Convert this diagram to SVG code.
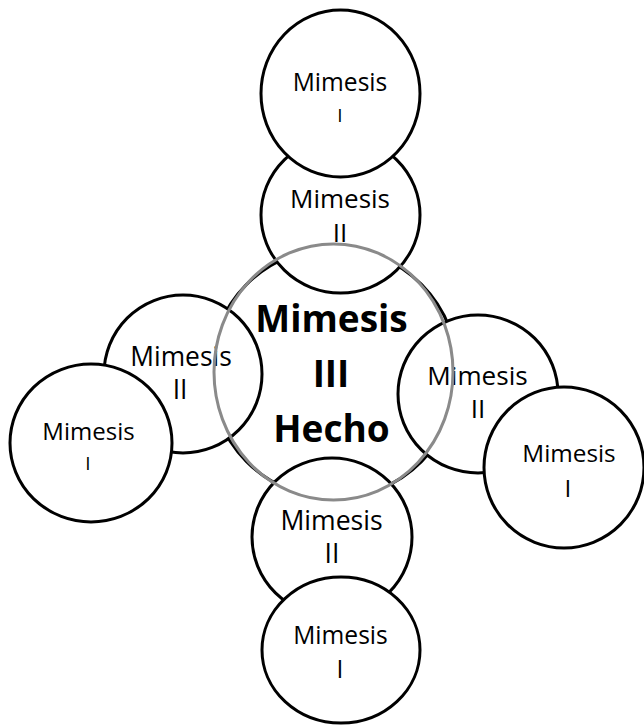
<svg xmlns="http://www.w3.org/2000/svg" width="644" height="725" viewBox="0 0 644 725">
<style>
.c{fill:#fff;stroke:#000;stroke-width:3}
.ring{fill:none;stroke:#8a8a8a;stroke-width:3}
.t{font-family:"Open Sans","Noto Sans","Liberation Sans",sans-serif;fill:#000;text-anchor:middle}
.b{font-family:"Open Sans","Noto Sans","Liberation Sans",sans-serif;font-weight:bold;fill:#000;text-anchor:middle;font-size:37px}
</style>
<rect width="644" height="725" fill="#fff"/>
<g id="mimesis-iii">
<ellipse class="c" cx="334" cy="373" rx="124" ry="125"/>
</g>
<g id="top-ii">
<ellipse class="c" cx="340.5" cy="215" rx="79.5" ry="78"/>
<text class="t" x="340" y="208" font-size="26">Mimesis</text>
<text class="t" x="340" y="242" font-size="26">II</text>
</g>
<g id="left-ii">
<ellipse class="c" cx="183" cy="374" rx="79" ry="79"/>
<text class="t" x="181" y="366" font-size="26.4">Mimesis</text>
<text class="t" x="180" y="399" font-size="26.4">II</text>
</g>
<g id="right-ii">
<ellipse class="c" cx="478" cy="394" rx="80" ry="79"/>
<text class="t" x="477.5" y="385" font-size="26.1">Mimesis</text>
<text class="t" x="478" y="418" font-size="26.1">II</text>
</g>
<g id="bottom-ii">
<ellipse class="c" cx="332" cy="537" rx="80" ry="79"/>
<text class="t" x="331.5" y="530" font-size="26.6">Mimesis</text>
<text class="t" x="332" y="563" font-size="26.6">II</text>
</g>
<g id="top-i">
<ellipse class="c" cx="340.5" cy="93.5" rx="79.5" ry="83.5"/>
<text class="t" x="340" y="91" font-size="24.6">Mimesis</text>
<text class="t" x="340" y="122" font-size="19">I</text>
</g>
<g id="left-i">
<ellipse class="c" cx="91" cy="443" rx="81" ry="79"/>
<text class="t" x="88.5" y="440" font-size="24">Mimesis</text>
<text class="t" x="88" y="470" font-size="19">I</text>
</g>
<g id="right-i">
<ellipse class="c" cx="564" cy="467.5" rx="80" ry="80.5"/>
<text class="t" x="569" y="462" font-size="24.3">Mimesis</text>
<text class="t" x="568" y="497" font-size="24.3">I</text>
</g>
<g id="bottom-i">
<ellipse class="c" cx="341" cy="650" rx="79" ry="73"/>
<text class="t" x="340.5" y="644" font-size="24.6">Mimesis</text>
<text class="t" x="340" y="678" font-size="24.6">I</text>
</g>
<g id="center-label">
<text class="b" x="331.5" y="332">Mimesis</text>
<text class="b" x="331" y="387">III</text>
<text class="b" x="331.5" y="442">Hecho</text>
</g>
<g id="overlay-ring">
<ellipse class="ring" cx="333.5" cy="372" rx="119.5" ry="128"/>
</g>
</svg>
